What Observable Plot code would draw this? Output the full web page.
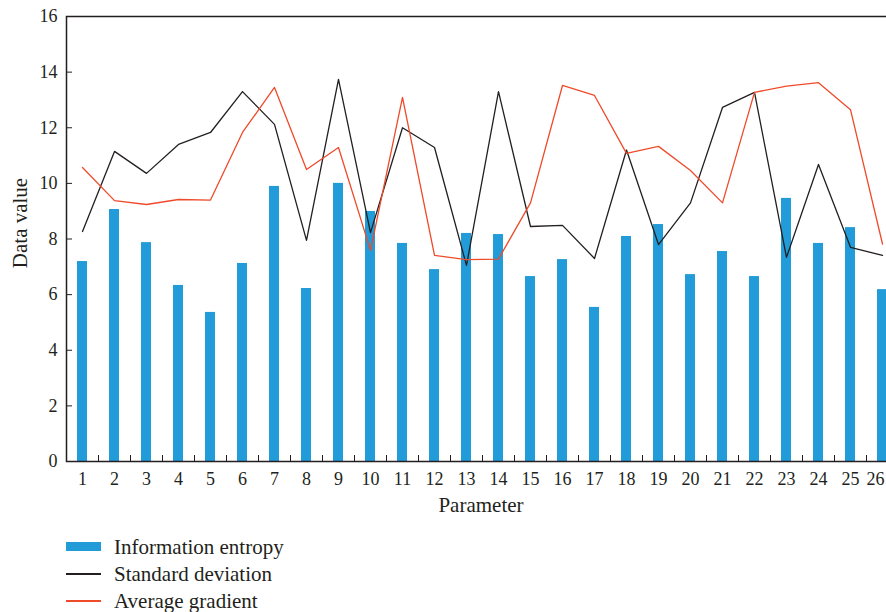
<!DOCTYPE html>
<html>
<head>
<meta charset="utf-8">
<script src="https://cdn.jsdelivr.net/npm/d3@7"></script>
<script src="https://cdn.jsdelivr.net/npm/@observablehq/plot@0.6"></script>
<style>
  html, body { margin: 0; padding: 0; background: #fff; overflow: hidden; }
  #wrap { position: relative; width: 886px; height: 612px; overflow: hidden; font-family: "Liberation Serif", "DejaVu Serif", serif; color: #231f20; }
  #chart { position: absolute; left: 0; top: 0; width: 898px; }
  #chart svg { max-width: none !important; }
  .lbl { position: absolute; font-size: 21px; white-space: nowrap; line-height: 1; }
  .leg .row { position: absolute; left: 66px; width: 400px; height: 24px; }
  .leg .sw { position: absolute; left: 0; width: 35px; }
  .leg .tx { position: absolute; left: 48px; top: 0; line-height: 24px; font-size: 21px; white-space: nowrap; }
</style>
</head>
<body>
<div id="wrap">
  <div id="chart"></div>
</div>
<script>
const categories = ["1","2","3","4","5","6","7","8","9","10","11","12","13","14","15","16","17","18","19","20","21","22","23","24","25","26"];
const informationEntropy = [7.19, 9.06, 7.87, 6.33, 5.36, 7.12, 9.89, 6.22, 10.0, 8.99, 7.84, 6.90, 8.20, 8.16, 6.65, 7.26, 5.54, 8.09, 8.52, 6.72, 7.55, 6.65, 9.46, 7.84, 8.41, 6.18];
const standardDeviation = [8.27, 11.15, 10.36, 11.40, 11.83, 13.30, 12.12, 7.95, 13.74, 8.23, 12.00, 11.29, 7.05, 13.30, 8.45, 8.49, 7.30, 11.20, 7.80, 9.30, 12.73, 13.27, 7.34, 10.68, 7.70, 7.41];
const averageGradient = [10.57, 9.38, 9.24, 9.42, 9.40, 11.83, 13.45, 10.50, 11.29, 7.59, 13.09, 7.41, 7.26, 7.28, 9.30, 13.52, 13.16, 11.08, 11.33, 10.46, 9.30, 13.27, 13.50, 13.62, 12.65, 7.82];
const yTicks = [0, 2, 4, 6, 8, 10, 12, 14, 16];
const seriesNames = ["Information entropy", "Standard deviation", "Average gradient"];
const seriesColors = ["#229cd9", "#231f20", "#ef4a2a"];
const xLabel = "Parameter";
const yLabel = "Data value";

const W = 898, H = 530, mL = 66, mR = 0, mT = 16, mB = 69;
const plotW = W - mL - mR, plotH = H - mT - mB;
const step = plotW / categories.length;

const bars = categories.map((c, i) => ({c, v: informationEntropy[i]}));
const sd = categories.map((c, i) => ({c, v: standardDeviation[i]}));
const ag = categories.map((c, i) => ({c, v: averageGradient[i]}));

const font = "Liberation Serif, DejaVu Serif, serif";
const mainTicks = categories.slice(0, -1);
const lastTick = categories.slice(-1);

const chart = Plot.plot({
  width: W, height: H,
  marginLeft: mL, marginRight: mR, marginTop: mT, marginBottom: mB,
  style: {fontFamily: font, fontSize: "18px", color: "#231f20", background: "#fff", overflow: "visible", maxWidth: "none"},
  x: {type: "band", domain: categories, paddingInner: 0.69, paddingOuter: 0.345},
  y: {domain: [0, 16]},
  marks: [
    Plot.barY(bars, {x: "c", y: "v", fill: seriesColors[0]}),
    Plot.line(sd, {x: "c", y: "v", stroke: seriesColors[1], strokeWidth: 1.3}),
    Plot.line(ag, {x: "c", y: "v", stroke: seriesColors[2], strokeWidth: 1.3}),
    Plot.ruleY(yTicks, {y: d => d, stroke: "#231f20", strokeWidth: 1, insetRight: plotW - 6}),
    Plot.ruleX(categories, {x: d => d, dx: step / 2, stroke: "#231f20", strokeWidth: 1, insetTop: plotH - 6}),
    Plot.frame({stroke: "#231f20", strokeWidth: 1.5}),
    Plot.axisY(yTicks, {tickSize: 0, tickPadding: 9, label: null, fontSize: 18}),
    Plot.axisX(mainTicks, {tickSize: 0, tickPadding: 11, label: null, fontSize: 18}),
    Plot.axisX(lastTick, {tickSize: 0, tickPadding: 11, label: null, fontSize: 18, dx: -7})
  ]
});
chart.style.maxWidth = "none";
document.getElementById("chart").appendChild(chart);

const wrap = document.getElementById("wrap");
const xl = document.createElement("div");
xl.className = "lbl"; xl.textContent = xLabel;
xl.style.left = "481px"; xl.style.top = "505px"; xl.style.transform = "translate(-50%, -50%)";
wrap.appendChild(xl);
const yl = document.createElement("div");
yl.className = "lbl"; yl.textContent = yLabel;
yl.style.left = "20px"; yl.style.top = "223px"; yl.style.transform = "translate(-50%, -50%) rotate(-90deg)";
wrap.appendChild(yl);

const leg = document.createElement("div");
leg.className = "leg";
const rowY = [547, 574, 601];
seriesNames.forEach((name, i) => {
  const row = document.createElement("div");
  row.className = "row";
  row.style.top = (rowY[i] - 12) + "px";
  const sw = document.createElement("div");
  sw.className = "sw";
  if (i === 0) { sw.style.height = "9px"; sw.style.top = "7px"; }
  else { sw.style.height = "1.5px"; sw.style.top = "11px"; }
  sw.style.background = seriesColors[i];
  const tx = document.createElement("div");
  tx.className = "tx"; tx.textContent = name;
  row.appendChild(sw); row.appendChild(tx);
  leg.appendChild(row);
});
wrap.appendChild(leg);
</script>
</body>
</html>
